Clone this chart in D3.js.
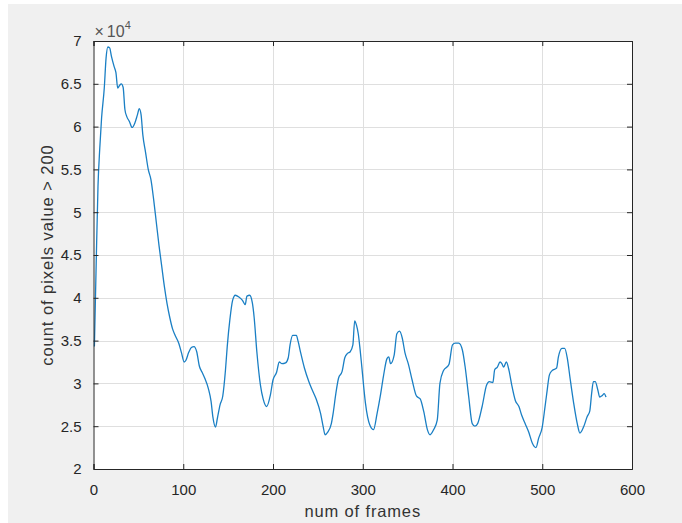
<!DOCTYPE html>
<html>
<head>
<meta charset="utf-8">
<script src="https://cdn.jsdelivr.net/npm/d3@7"></script>
<style>
  body { margin: 0; background: #fff; }
  text { font-family: "Liberation Sans", Arial, sans-serif; fill: #262626; }
</style>
</head>
<body>
<div id="chart"></div>
<script>
// Frame index and pixel counts
const frames = [1, 3, 5, 7, 9, 12, 14, 16, 18, 20, 23, 25, 27, 29, 31, 33, 35, 37, 40, 43,
  46, 49, 51, 53, 55, 58, 61, 64, 67, 70, 73, 76, 79, 82, 85, 88, 91, 95, 98, 101,
  103, 106, 109, 112, 115, 118, 121, 124, 128, 131, 133, 136, 138, 141, 144, 147, 149, 152, 155, 158,
  162, 166, 169, 171, 174, 177, 179, 182, 186, 189, 193, 197, 200, 204, 207, 210, 214, 217, 219, 222,
  226, 228, 231, 235, 240, 243, 248, 253, 256, 258, 261, 265, 267, 270, 273, 277, 280, 283, 286, 289,
  291, 293, 295, 297, 299, 303, 308, 312, 316, 320, 323, 327, 329, 331, 335, 338, 341, 344, 347, 351,
  355, 360, 364, 368, 372, 375, 379, 383, 386, 390, 396, 400, 403, 407, 411, 414, 418, 422, 425, 428,
  433, 438, 441, 445, 447, 450, 453, 455, 457, 460, 463, 466, 470, 474, 477, 481, 485, 489, 493, 496,
  500, 503, 505, 508, 511, 516, 518, 522, 525, 528, 531, 535, 539, 542, 546, 550, 553, 555, 557, 559,
  562, 564, 567, 569, 571];
const counts = [34300, 44000, 53000, 57500, 61000, 64500, 68000, 69300, 69200, 68200, 67000, 66300, 64500, 64800, 65000, 64600, 62000, 61200, 60600, 59900,
  60400, 61400, 62100, 61400, 59000, 57000, 55000, 53800, 51500, 48800, 46100, 43700, 41300, 39300, 37700, 36400, 35600, 34700, 33600, 32500,
  32700, 33600, 34200, 34300, 33700, 32000, 31300, 30600, 29400, 27900, 26100, 24900, 25900, 27500, 28500, 31500, 34300, 37500, 39700, 40300,
  40100, 39700, 39200, 40200, 40300, 39400, 37700, 33700, 29800, 28200, 27300, 28600, 30400, 31300, 32500, 32300, 32400, 33000, 34500, 35600,
  35600, 34900, 33500, 31800, 30200, 29400, 28200, 26500, 24900, 24000, 24300, 25300, 26500, 28800, 30600, 31400, 33000, 33500, 33700, 34500,
  37300, 36800, 35800, 34000, 31900, 27700, 25100, 24600, 26500, 28800, 30800, 32900, 33100, 32300, 33300, 35800, 36100, 35300, 33600, 32200,
  30400, 28500, 28200, 26700, 24600, 24000, 24600, 25700, 30000, 31500, 32200, 34500, 34700, 34700, 33900, 32000, 28500, 25300, 25000, 25300,
  27300, 29800, 30200, 30100, 31600, 31900, 32500, 32300, 31900, 32500, 31500, 29800, 28000, 27300, 26300, 25300, 24300, 23000, 22500, 23600,
  24900, 27200, 28800, 31000, 31500, 31800, 33100, 34100, 34100, 32900, 30600, 27700, 25300, 24200, 24900, 26100, 26800, 28800, 30200, 30200,
  29200, 28400, 28600, 28800, 28400];

const xTicks = [0, 100, 200, 300, 400, 500, 600];
const yTicks = [20000, 25000, 30000, 35000, 40000, 45000, 50000, 55000, 60000, 65000, 70000];

const width = 682;
const height = 523;
const margin = {top: 41, right: 50, bottom: 54, left: 93.5};

const svg = d3.select("#chart")
    .append("svg")
    .attr("width", width)
    .attr("height", height);

// figure background
svg.append("rect")
    .attr("x", 8).attr("y", 4)
    .attr("width", width - 8).attr("height", height - 4)
    .attr("fill", "#f0f0f0");

const x = d3.scaleLinear().domain([0, 600]).range([margin.left, width - margin.right]);
const y = d3.scaleLinear().domain([20000, 70000]).range([height - margin.bottom, margin.top]);

// axes box background
svg.append("rect")
    .attr("x", x(0)).attr("y", y(70000))
    .attr("width", x(600) - x(0)).attr("height", y(20000) - y(70000))
    .attr("fill", "#fff");

// grid
svg.append("g")
    .selectAll("line")
    .data(xTicks.slice(1, -1))
    .join("line")
    .attr("x1", d => Math.round(x(d)) + 0.5).attr("x2", d => Math.round(x(d)) + 0.5)
    .attr("y1", y(20000)).attr("y2", y(70000))
    .attr("stroke", "#dfdfdf");
svg.append("g")
    .selectAll("line")
    .data(yTicks.slice(1, -1))
    .join("line")
    .attr("y1", d => Math.round(y(d)) + 0.5).attr("y2", d => Math.round(y(d)) + 0.5)
    .attr("x1", x(0)).attr("x2", x(600))
    .attr("stroke", "#dfdfdf");

// data line
const line = d3.line()
    .x((d, i) => x(frames[i]))
    .y(d => y(d))
    .curve(d3.curveMonotoneX);

svg.append("path")
    .datum(counts)
    .attr("d", line)
    .attr("fill", "none")
    .attr("stroke", "#1a7fc4")
    .attr("stroke-width", 1.3);

// axes with inward ticks (box on)
const tickLen = 5;
const xAxis = d3.axisBottom(x).tickValues(xTicks).tickSize(-tickLen).tickPadding(tickLen + 10).tickFormat(d3.format("d"));
const xAxisTop = d3.axisTop(x).tickValues(xTicks).tickSize(-tickLen).tickFormat("");
const yAxis = d3.axisLeft(y).tickValues(yTicks).tickSize(-tickLen).tickPadding(tickLen + 7).tickFormat(d => d / 10000);
const yAxisRight = d3.axisRight(y).tickValues(yTicks).tickSize(-tickLen).tickFormat("");

function styleAxis(g) {
    g.selectAll(".domain").attr("stroke", "#262626");
    g.selectAll(".tick line").attr("stroke", "#262626");
    g.selectAll("text").attr("fill", "#333").style("font-size", "15px")
        .style("font-family", "'Liberation Sans', Arial, sans-serif");
}

svg.append("g").attr("transform", `translate(0,${y(20000)})`).call(xAxis).call(styleAxis);
svg.append("g").attr("transform", `translate(0,${y(70000)})`).call(xAxisTop).call(styleAxis);
svg.append("g").attr("transform", `translate(${x(0)},0)`).call(yAxis).call(styleAxis);
svg.append("g").attr("transform", `translate(${x(600)},0)`).call(yAxisRight).call(styleAxis);

// exponent label
const expo = svg.append("text")
    .attr("x", x(0) + 1)
    .attr("y", y(70000) - 4)
    .style("fill", "#555")
    .style("font-size", "16px");
expo.append("tspan").text("\u00d7");
expo.append("tspan").attr("dx", 3).text("10");
expo.append("tspan").attr("dy", -8).style("font-size", "11px").text("4");

// axis labels
svg.append("text")
    .attr("x", (x(0) + x(600)) / 2)
    .attr("y", 517)
    .attr("text-anchor", "middle")
    .style("fill", "#333")
    .style("font-size", "16.5px")
    .style("letter-spacing", "0.85px")
    .text("num of frames");

svg.append("text")
    .attr("transform", `translate(53,${(y(20000) + y(70000)) / 2}) rotate(-90)`)
    .attr("text-anchor", "middle")
    .style("fill", "#333")
    .style("font-size", "16.5px")
    .style("letter-spacing", "0.95px")
    .text("count of pixels value > 200");
</script>
</body>
</html>
